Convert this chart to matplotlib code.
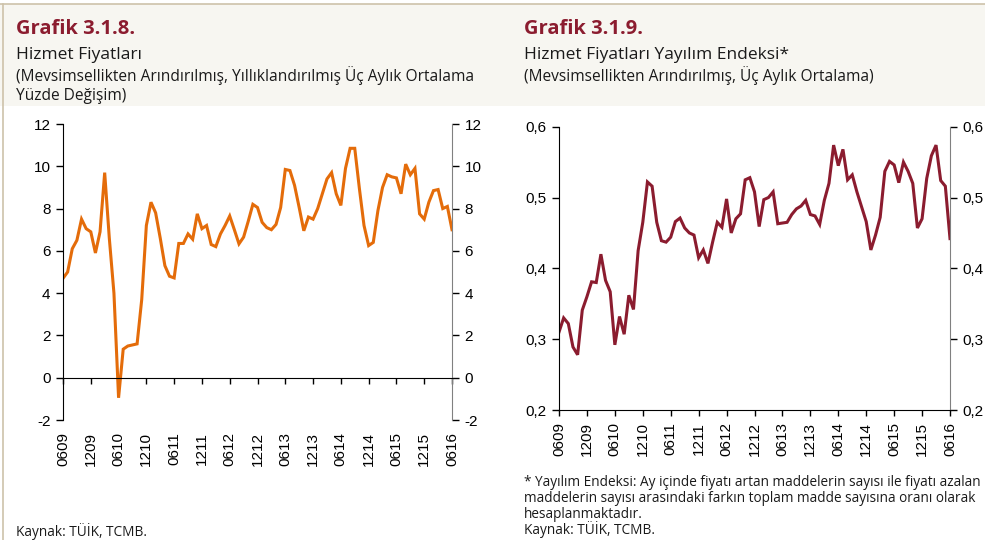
import numpy as np
import matplotlib
matplotlib.use("Agg")
from matplotlib import pyplot as plt
from matplotlib.patches import Rectangle
from matplotlib.lines import Line2D

# monthly data, 06/2009 .. 06/2016
tick_labels = ["0609", "1209", "0610", "1210", "0611", "1211", "0612", "1212",
               "0613", "1213", "0614", "1214", "0615", "1215", "0616"]

services_inflation = [4.7, 5.0, 6.1, 6.5, 7.5, 7.05, 6.9, 5.9, 6.9, 9.7,
                      6.6, 4.0, -0.95, 1.35, 1.5, 1.55, 1.6, 3.7, 7.2, 8.3,
                      7.8, 6.6, 5.3, 4.8, 4.72, 6.35, 6.35, 6.8, 6.55, 7.75,
                      7.05, 7.2, 6.3, 6.2, 6.8, 7.2, 7.65, 7.0, 6.33, 6.65,
                      7.4, 8.2, 8.05, 7.35, 7.1, 7.0, 7.25, 8.05, 9.85, 9.8,
                      9.1, 8.05, 6.95, 7.6, 7.5, 8.0, 8.7, 9.4, 9.7, 8.7,
                      8.15, 9.9, 10.85, 10.85, 8.95, 7.2, 6.25, 6.4, 7.9, 9.0,
                      9.6, 9.5, 9.45, 8.7, 10.1, 9.6, 9.9, 7.75, 7.5, 8.3,
                      8.85, 8.9, 8.0, 8.1, 7.0]

diffusion_index = [0.31, 0.33, 0.322, 0.289, 0.278, 0.341, 0.36, 0.381, 0.38, 0.42,
                   0.383, 0.367, 0.292, 0.332, 0.307, 0.362, 0.342, 0.425, 0.465, 0.522,
                   0.516, 0.465, 0.439, 0.437, 0.444, 0.466, 0.471, 0.457, 0.45, 0.447,
                   0.415, 0.426, 0.407, 0.437, 0.465, 0.458, 0.498, 0.45, 0.47, 0.477,
                   0.525, 0.528, 0.508, 0.459, 0.497, 0.5, 0.508, 0.463, 0.464, 0.465,
                   0.476, 0.484, 0.488, 0.496, 0.476, 0.474, 0.462, 0.496, 0.52, 0.574,
                   0.545, 0.568, 0.525, 0.532, 0.508, 0.487, 0.466, 0.426, 0.447, 0.472,
                   0.537, 0.551, 0.546, 0.521, 0.55, 0.537, 0.52, 0.457, 0.47, 0.527,
                   0.559, 0.574, 0.524, 0.516, 0.442]

ORANGE = "#E46C0A"
CLARET = "#8B1C2F"
BEIGE = "#F7F6F1"
BORDER = "#CDC2AA"
HEAD = "Open Sans"
INK = "#1a1a1a"

plt.rcParams['font.family'] = ['Liberation Sans', 'DejaVu Sans']

W, H = 985, 540
fig = plt.figure(figsize=(W / 100, H / 100), dpi=100, facecolor="white")


def fx(px):
    return px / W


def fy(py):
    return 1 - py / H


# header band and panel borders
fig.patches.append(Rectangle((0, fy(106)), 1, fy(4) - fy(106), transform=fig.transFigure,
                             facecolor=BEIGE, edgecolor="none", zorder=0))
fig.add_artist(Line2D([0, 1], [fy(4), fy(4)], color=BORDER, lw=1.2))
fig.add_artist(Line2D([fx(3), fx(3)], [fy(4), 0], color=BORDER, lw=1.2))


def month_axis(ax, n):
    ticks = np.arange(0, n, 6)
    ax.set_xlim(0, n - 1)
    ax.set_xticks(ticks)
    ax.set_xticklabels([])
    ax.tick_params(axis='x', direction='out', length=4, width=1)
    sec = ax.secondary_xaxis(0)
    sec.set_xticks(ticks, labels=tick_labels, rotation=90)
    sec.tick_params(length=0, labelsize=11, pad=9)
    sec.spines['bottom'].set_visible(False)
    return sec


def style_y(ax, ticks, labels):
    ax.set_yticks(ticks)
    ax.set_yticklabels(labels)
    ax.spines['top'].set_visible(False)
    ax.spines['right'].set_color('#808080')
    ax.tick_params(axis='y', left=True, right=True, labelleft=True, labelright=True,
                   direction='out', length=5, width=1, labelsize=11, pad=4)
    for t in ax.yaxis.get_major_ticks():
        t.tick2line.set_color('#808080')


# left chart
ax1 = fig.add_axes([fx(63), fy(420), fx(452) - fx(63), fy(124) - fy(420)])
x1 = np.arange(len(services_inflation))
ax1.plot(x1, services_inflation, color=ORANGE, lw=2.2, solid_joinstyle='miter')
ax1.set_ylim(-2, 12)
style_y(ax1, range(-2, 13, 2), [str(v) for v in range(-2, 13, 2)])
ax1.spines['bottom'].set_position(('data', 0))
month_axis(ax1, len(services_inflation))

# right chart
ax2 = fig.add_axes([fx(559), fy(410), fx(950) - fx(559), fy(126.7) - fy(410)])
x2 = np.arange(len(diffusion_index))
ax2.plot(x2, diffusion_index, color=CLARET, lw=2.2, solid_joinstyle='miter')
ax2.set_ylim(0.2, 0.6)
yt = [0.2, 0.3, 0.4, 0.5, 0.6]
style_y(ax2, yt, [f"{v:.1f}".replace('.', ',') for v in yt])
month_axis(ax2, len(diffusion_index))

# header texts
fig.text(fx(16), fy(34), "Grafik 3.1.8.", family=HEAD, fontweight='bold', fontsize=14.5, color=CLARET)
fig.text(fx(16), fy(59), "Hizmet Fiyatları", family=HEAD, fontsize=12.5, color=INK)
fig.text(fx(16), fy(81), "(Mevsimsellikten Arındırılmış, Yıllıklandırılmış Üç Aylık Ortalama",
         family=HEAD, fontsize=11.2, color=INK)
fig.text(fx(16), fy(100), "Yüzde Değişim)", family=HEAD, fontsize=11.2, color=INK)

fig.text(fx(524), fy(34), "Grafik 3.1.9.", family=HEAD, fontweight='bold', fontsize=14.5, color=CLARET)
fig.text(fx(524), fy(59), "Hizmet Fiyatları Yayılım Endeksi*", family=HEAD, fontsize=12.5, color=INK)
fig.text(fx(524), fy(81), "(Mevsimsellikten Arındırılmış, Üç Aylık Ortalama)",
         family=HEAD, fontsize=11.2, color=INK)

# footnotes
note = ["* Yayılım Endeksi: Ay içinde fiyatı artan maddelerin sayısı ile fiyatı azalan",
        "maddelerin sayısı arasındaki farkın toplam madde sayısına oranı olarak",
        "hesaplanmaktadır.",
        "Kaynak: TÜİK, TCMB."]
for k, line in enumerate(note):
    fig.text(fx(524), fy(486 + 16 * k), line, family=HEAD, fontsize=9.8, color=INK)
fig.text(fx(16), fy(536), "Kaynak: TÜİK, TCMB.", family=HEAD, fontsize=9.8, color=INK)

fig.savefig("out.png", dpi=100, facecolor="white")
